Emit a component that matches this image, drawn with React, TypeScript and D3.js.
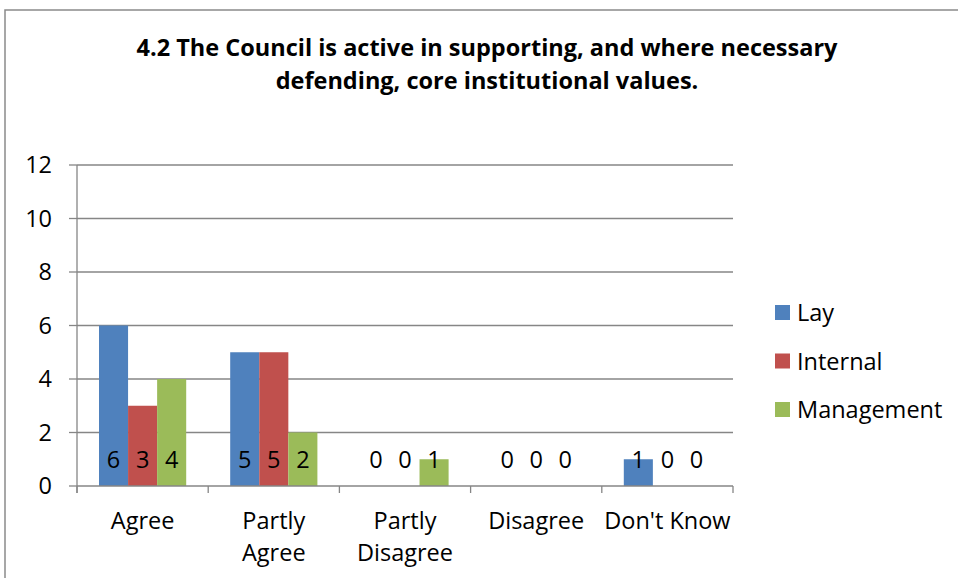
import * as d3 from "d3";

const categories = ["Agree", "Partly Agree", "Partly Disagree", "Disagree", "Don't Know"];
const categoryLines = [["Agree"], ["Partly", "Agree"], ["Partly", "Disagree"], ["Disagree"], ["Don't Know"]];
const seriesNames = ["Lay", "Internal", "Management"];
const seriesColors = ["#4F81BD", "#C0504D", "#9BBB59"];
const lay = [6, 5, 0, 0, 1];
const internal = [3, 5, 0, 0, 0];
const management = [4, 2, 1, 0, 0];
const yTicks = [0, 2, 4, 6, 8, 10, 12];
const titleLines = [
  "4.2 The Council is active in supporting, and where necessary",
  "defending, core institutional values.",
];

const WIDTH = 958;
const HEIGHT = 578;
const PLOT = { left: 77, right: 733, top: 165, bottom: 486 };
const FONT = "'Open Sans', Lato, sans-serif";
const AXIS = "#868686";
const FS = 23.5;

export default function App() {
  const series = [lay, internal, management];
  const x = d3.scaleBand<string>().domain(categories).range([PLOT.left, PLOT.right]).padding(0);
  const inner = d3
    .scaleBand<number>()
    .domain(d3.range(seriesNames.length))
    .range([22, x.bandwidth() - 22])
    .padding(0);
  const y = d3.scaleLinear().domain([0, 12]).range([PLOT.bottom, PLOT.top]);

  return (
    <svg
      width={WIDTH}
      height={HEIGHT}
      viewBox={`0 0 ${WIDTH} ${HEIGHT}`}
      style={{ position: "absolute", left: 0, top: 0, display: "block", background: "#fff" }}
      fontFamily={FONT}
    >
      <rect x="0" y="0" width={WIDTH} height={HEIGHT} fill="#fff" />
      <rect x="5" y="10" width={WIDTH + 10} height={HEIGHT + 10} fill="none" stroke="#8a8a8a" strokeWidth="1.5" />

      {titleLines.map((line, i) => (
        <text key={i} x="487" y={56 + i * 33} textAnchor="middle" fontSize={FS} fontWeight="700" fill="#000">
          {line}
        </text>
      ))}

      {yTicks.map((t) => (
        <g key={t}>
          {t > 0 && <line x1={PLOT.left} x2={PLOT.right} y1={y(t)} y2={y(t)} stroke={AXIS} strokeWidth="1.3" />}
          <line x1={PLOT.left - 8} x2={PLOT.left} y1={y(t)} y2={y(t)} stroke={AXIS} strokeWidth="1.3" />
          <text x="52" y={y(t) + 8} textAnchor="end" fontSize={FS} fill="#000">
            {t}
          </text>
        </g>
      ))}

      {categories.map((c, ci) =>
        series.map((values, si) => {
          const bx = (x(c) ?? 0) + (inner(si) ?? 0);
          const v = values[ci];
          return v > 0 ? (
            <rect key={`${ci}-${si}`} x={bx} y={y(v)} width={inner.bandwidth()} height={y(0) - y(v)} fill={seriesColors[si]} />
          ) : null;
        })
      )}

      <line x1={PLOT.left} x2={PLOT.left} y1={PLOT.top} y2={PLOT.bottom + 7} stroke={AXIS} strokeWidth="1.3" />
      <line x1={PLOT.left} x2={PLOT.right} y1={PLOT.bottom} y2={PLOT.bottom} stroke={AXIS} strokeWidth="1.3" />
      {[...categories.map((c) => x(c) ?? 0), PLOT.right].map((px, i) => (
        <line key={i} x1={px} x2={px} y1={PLOT.bottom} y2={PLOT.bottom + 7} stroke={AXIS} strokeWidth="1.3" />
      ))}

      {categories.map((c, ci) =>
        series.map((values, si) => {
          const cx = (x(c) ?? 0) + (inner(si) ?? 0) + inner.bandwidth() / 2;
          return (
            <text key={`l-${ci}-${si}`} x={cx} y={468} textAnchor="middle" fontSize={FS} fill="#000">
              {values[ci]}
            </text>
          );
        })
      )}

      {categories.map((c, ci) => (
        <text key={c} textAnchor="middle" fontSize={FS} fill="#000">
          {categoryLines[ci].map((line, li) => (
            <tspan key={li} x={(x(c) ?? 0) + x.bandwidth() / 2} y={529 + li * 32}>
              {line}
            </tspan>
          ))}
        </text>
      ))}

      {seriesNames.map((name, i) => (
        <g key={name} transform={`translate(775 ${305 + i * 48.5})`}>
          <rect width="15" height="15" fill={seriesColors[i]} />
          <text x="22" y="16" fontSize={FS} fill="#000">
            {name}
          </text>
        </g>
      ))}
    </svg>
  );
}
